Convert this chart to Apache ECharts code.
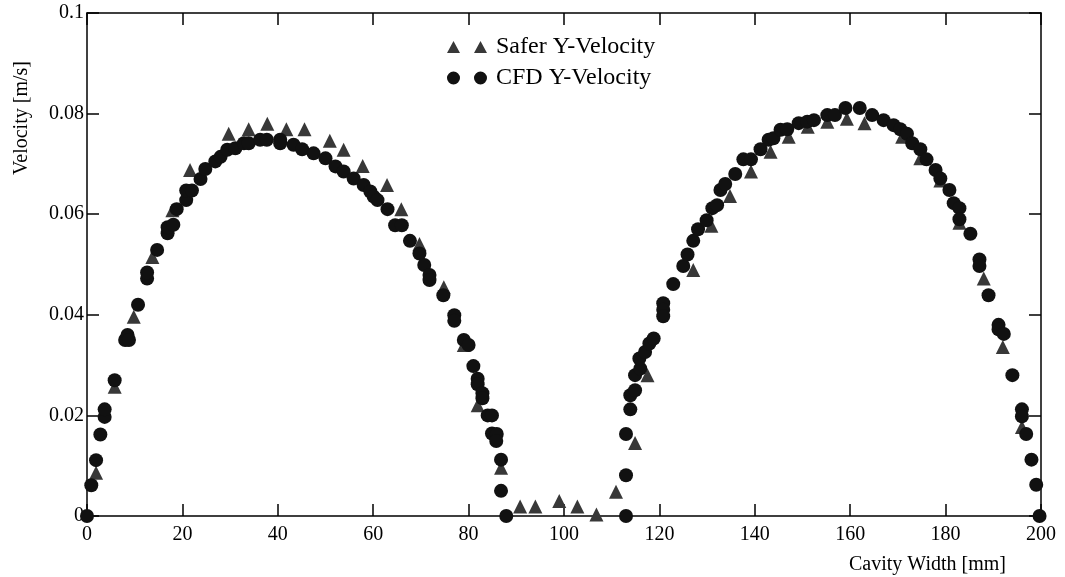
<!DOCTYPE html>
<html>
<head>
<meta charset="utf-8">
<script src="https://cdn.jsdelivr.net/npm/echarts@6/dist/echarts.min.js"></script>
<style>
html, body { margin: 0; padding: 0; background: #fff; }
#main { width: 1065px; height: 577px; }
</style>
</head>
<body>
<div id="main"></div>
<script>
// [cavity width mm, velocity m/s]
var saferVelocity = [
  [1.9, 0.0086], [5.8, 0.0257], [9.8, 0.0396], [13.7, 0.0515], [17.9, 0.0608],
  [21.6, 0.0688], [29.7, 0.076], [33.9, 0.0769], [37.8, 0.078], [41.8, 0.0769],
  [45.6, 0.0769], [50.9, 0.0746], [53.8, 0.0728], [57.8, 0.0696], [62.9, 0.0658],
  [65.9, 0.061], [69.7, 0.0541], [74.8, 0.0455], [79.0, 0.034], [81.9, 0.022],
  [86.8, 0.0096], [90.8, 0.0019], [94.0, 0.0019], [99.0, 0.003], [102.8, 0.0019],
  [106.8, 0.0003], [110.9, 0.0048], [114.9, 0.0145], [117.5, 0.028], [127.1, 0.0489],
  [130.9, 0.0577], [134.8, 0.0636], [139.2, 0.0685], [143.3, 0.0724], [147.1, 0.0754],
  [151.1, 0.0774], [155.2, 0.0784], [159.3, 0.079], [163.0, 0.0781], [170.9, 0.0754],
  [174.7, 0.0711], [178.9, 0.0667], [182.9, 0.0583], [188.0, 0.0472], [192.0, 0.0336],
  [196.0, 0.0177]
];

var cfdVelocity = [
  [0, 0], [0.9, 0.0061], [1.9, 0.0111], [2.8, 0.0162], [3.7, 0.0197], [3.7, 0.0212],
  [5.8, 0.027], [8.0, 0.035], [8.5, 0.036], [8.8, 0.035], [10.7, 0.042], [12.6, 0.0472],
  [12.6, 0.0484], [14.7, 0.0529], [16.9, 0.0562], [16.9, 0.0574], [18.1, 0.0579],
  [18.8, 0.061], [20.8, 0.0628], [20.8, 0.0647], [22.0, 0.0647], [23.8, 0.067],
  [24.8, 0.069], [26.9, 0.0705], [28.0, 0.0714], [29.4, 0.0728], [31.1, 0.0731],
  [32.9, 0.0741], [33.9, 0.0741], [36.3, 0.0748], [37.7, 0.0748], [40.5, 0.0748],
  [40.5, 0.0741], [43.3, 0.0738], [45.1, 0.0729], [47.5, 0.0721], [50.0, 0.0711],
  [52.1, 0.0695], [53.8, 0.0685], [55.9, 0.0671], [58.0, 0.0658], [59.4, 0.0645],
  [60.1, 0.0635], [60.9, 0.0628], [63.0, 0.061], [64.6, 0.0578], [66.0, 0.0578],
  [67.7, 0.0547], [69.7, 0.0522], [70.7, 0.0499], [71.8, 0.0479], [71.8, 0.0469],
  [74.7, 0.0439], [77.0, 0.0399], [77.0, 0.0388], [79.0, 0.035], [80.0, 0.034],
  [81.0, 0.0298], [81.9, 0.0273], [81.9, 0.0262], [82.9, 0.0244], [82.9, 0.0234],
  [84.0, 0.02], [84.9, 0.02], [84.9, 0.0164], [85.9, 0.0163], [85.8, 0.0149],
  [86.8, 0.0112], [86.8, 0.005], [87.9, 0],
  [113.0, 0], [113.0, 0.0081], [113.0, 0.0163], [113.9, 0.0212], [113.9, 0.024],
  [114.9, 0.025], [114.9, 0.028], [116.0, 0.0293], [115.8, 0.0313], [117.0, 0.0326],
  [117.9, 0.0343], [118.8, 0.0353], [120.8, 0.0423], [120.8, 0.041], [120.8, 0.0397],
  [122.9, 0.0461], [125.0, 0.0497], [125.9, 0.052], [127.1, 0.0547], [128.1, 0.057],
  [129.9, 0.0588], [131.1, 0.0612], [132.1, 0.0618], [132.8, 0.0648], [133.8, 0.066],
  [135.9, 0.068], [137.6, 0.0709], [139.2, 0.0709], [141.2, 0.0729], [142.9, 0.0748],
  [143.9, 0.0751], [145.4, 0.0768], [146.8, 0.0769], [149.2, 0.0781], [151.0, 0.0784],
  [152.4, 0.0787], [155.2, 0.0797], [156.8, 0.0797], [159.0, 0.0811], [162.0, 0.0811],
  [164.6, 0.0797], [167.0, 0.0787], [169.1, 0.0777], [170.5, 0.0769], [171.9, 0.076],
  [173.0, 0.0741], [174.7, 0.0729], [176.0, 0.0709], [177.9, 0.0688], [178.9, 0.0671],
  [180.8, 0.0648], [181.7, 0.0622], [182.9, 0.0612], [182.9, 0.059], [185.2, 0.0561],
  [187.1, 0.051], [187.1, 0.0497], [189.0, 0.0439], [191.1, 0.038], [191.1, 0.0371],
  [192.2, 0.0362], [194.0, 0.028], [196.0, 0.0212], [196.0, 0.0198], [196.9, 0.0163],
  [198.0, 0.0112], [199.0, 0.0062], [199.7, 0]
];

var seriesNames = ['Safer Y-Velocity', 'CFD Y-Velocity'];
var xAxisTitle = 'Cavity Width [mm]';
var yAxisTitle = 'Velocity [m/s]';

var font = 'Liberation Serif';
// box frame: every side drawn by its own axis, ticks pointing inward
var frameLine = { onZero: false, lineStyle: { color: '#000', width: 1.5 } };
var frameTick = { show: true, inside: true, length: 12, lineStyle: { color: '#000', width: 1.5 } };

var myChart = echarts.init(document.getElementById('main'));
myChart.setOption({
  animation: false,
  grid: { left: 87, right: 24, top: 13, bottom: 61, containLabel: false },
  legend: {
    orient: 'vertical',
    left: 442,
    top: 30,
    itemGap: 7,
    itemWidth: 40,
    itemHeight: 13,
    selectedMode: false,
    textStyle: { fontFamily: font, fontSize: 24, color: '#000', padding: [0, 0, 0, 4] },
    data: [
      { name: seriesNames[0], icon: 'path://M0,12L6.5,0L13,12Z M27,12L33.5,0L40,12Z' },
      { name: seriesNames[1], icon: 'path://M0,6.5a6.5,6.5 0 1,0 13,0a6.5,6.5 0 1,0 -13,0Z M27,6.5a6.5,6.5 0 1,0 13,0a6.5,6.5 0 1,0 -13,0Z' }
    ]
  },
  xAxis: [
    {
      type: 'value', min: 0, max: 200, interval: 20,
      axisLine: frameLine, axisTick: frameTick, splitLine: { show: false },
      axisLabel: { fontFamily: font, fontSize: 20, color: '#000', margin: 9 }
    },
    {
      type: 'value', position: 'top', min: 0, max: 200, interval: 20,
      axisLine: frameLine, axisTick: frameTick, splitLine: { show: false },
      axisLabel: { show: false }
    }
  ],
  yAxis: [
    {
      type: 'value', min: 0, max: 0.1, interval: 0.02,
      axisLine: frameLine, axisTick: frameTick, splitLine: { show: false },
      axisLabel: {
        fontFamily: font, fontSize: 20, color: '#000', margin: 3,
        formatter: function (v) { return String(+v.toFixed(2)) }
      }
    },
    {
      type: 'value', position: 'right', min: 0, max: 0.1, interval: 0.02,
      axisLine: frameLine, axisTick: frameTick, splitLine: { show: false },
      axisLabel: { show: false }
    }
  ],
  graphic: [
    {
      type: 'text', x: 22, y: 118, rotation: Math.PI / 2,
      style: { text: yAxisTitle, fontFamily: font, fontSize: 20, fill: '#000', align: 'center', verticalAlign: 'middle' }
    },
    {
      type: 'text', x: 849, y: 565,
      style: { text: xAxisTitle, fontFamily: font, fontSize: 20, fill: '#000', align: 'left', verticalAlign: 'middle' }
    }
  ],
  series: [
    {
      name: seriesNames[0],
      type: 'scatter',
      symbol: 'triangle',
      symbolSize: 14,
      itemStyle: { color: '#383838', opacity: 1 },
      data: saferVelocity
    },
    {
      name: seriesNames[1],
      type: 'scatter',
      symbol: 'circle',
      symbolSize: 14,
      itemStyle: { color: '#111', opacity: 1 },
      data: cfdVelocity
    }
  ]
});
</script>
</body>
</html>
